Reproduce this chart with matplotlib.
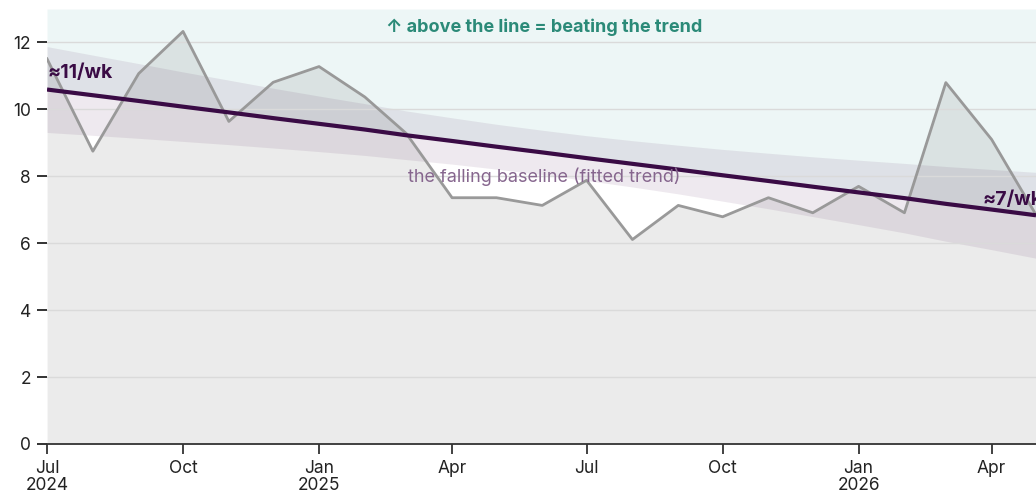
"""
Monthly rate vs. a falling fitted baseline, with its 95% band.
"""

import numpy as np
import pandas as pd
import matplotlib
matplotlib.use("Agg")
import matplotlib.pyplot as plt

# -------------------------------
# Data
# -------------------------------
months = [
    "2024-07", "2024-08", "2024-09", "2024-10", "2024-11", "2024-12",
    "2025-01", "2025-02", "2025-03", "2025-04", "2025-05", "2025-06",
    "2025-07", "2025-08", "2025-09", "2025-10", "2025-11", "2025-12",
    "2026-01", "2026-02", "2026-03", "2026-04", "2026-05",
]
per_week = [
    11.51, 8.75, 11.07, 12.33, 9.64, 10.81,
    11.28, 10.37, 9.28, 7.36, 7.36, 7.13,
    7.88, 6.11, 7.13, 6.79, 7.36, 6.91,
    7.70, 6.91, 10.80, 9.10, 6.85,
]

tick_dates = ["2024-07", "2024-10", "2025-01", "2025-04",
              "2025-07", "2025-10", "2026-01", "2026-04"]
tick_labels = ["Jul\n2024", "Oct", "Jan\n2025", "Apr",
               "Jul", "Oct", "Jan\n2026", "Apr"]

# -------------------------------
# Fitted trend + 95% confidence band
# -------------------------------
x = pd.to_datetime(months)
y = np.array(per_week)
n = len(y)
t = np.arange(n)

slope, intercept = np.polyfit(t, y, 1)
fit = intercept + slope * t
resid = y - fit
s = np.sqrt(np.sum(resid ** 2) / (n - 2))
t_crit = 2.080  # 95%, 21 degrees of freedom
se = s * np.sqrt(1 / n + (t - t.mean()) ** 2 / np.sum((t - t.mean()) ** 2))
band_lo = fit - t_crit * se
band_hi = fit + t_crit * se

# -------------------------------
# Plot
# -------------------------------
plt.rcParams["font.family"] = ["Inter", "DejaVu Sans"]

fig, ax = plt.subplots(figsize=(10.36, 4.92), dpi=100)
fig.subplots_adjust(left=0.0454, right=1.0, bottom=0.0976, top=0.9817)

ymax = 13

# region above the trend
ax.fill_between(x, fit, ymax, color="#edf6f6", lw=0, zorder=0.5)
# area under the actual series
ax.fill_between(x, 0, y, color="black", alpha=0.08, lw=0, zorder=0.6)
# confidence band
ax.fill_between(x, band_lo, band_hi, color="#4b1650", alpha=0.09,
                lw=0, zorder=0.7)

ax.plot(x, y, color="#999999", lw=2, zorder=2)
ax.plot(x, fit, color="#3a0b45", lw=3, zorder=3, solid_capstyle="butt")

# annotations
mid = pd.Timestamp("2025-06-02")
ax.text(mid, 12.45, "\u2191 above the line = beating the trend",
        color="#2b8a78", fontsize=13, fontweight="bold",
        ha="center", va="center")
ax.text(mid, 7.98, "the falling baseline (fitted trend)",
        color="#86668e", fontsize=13, ha="center", va="center")
ax.text(x[0], 11.1, "\u224811/wk", color="#3a0b45", fontsize=14,
        fontweight="bold", ha="left", va="center")
ax.text(pd.Timestamp("2026-03-26"), 7.3, "\u22487/wk", color="#3a0b45",
        fontsize=14, fontweight="bold", ha="left", va="center",
        clip_on=False)

# axes styling
ax.set_xlim(x[0], x[-1])
ax.set_ylim(0, ymax)
ax.set_yticks(range(0, 13, 2))
ax.set_xticks(pd.to_datetime(tick_dates))
ax.set_xticklabels(tick_labels, linespacing=1.0)

ax.yaxis.grid(True, color="#dadada", lw=1)
for side in ["top", "right", "left"]:
    ax.spines[side].set_visible(False)
ax.spines["bottom"].set_color("#333333")
ax.spines["bottom"].set_linewidth(1.3)

ax.tick_params(axis="y", length=7.5, width=1.3, color="#222222",
               labelsize=12.5, labelcolor="#222222", pad=4)
ax.tick_params(axis="x", length=7.5, width=1.3, color="#333333",
               labelsize=12.5, labelcolor="#222222", pad=4)

fig.savefig("out.png", dpi=100)
